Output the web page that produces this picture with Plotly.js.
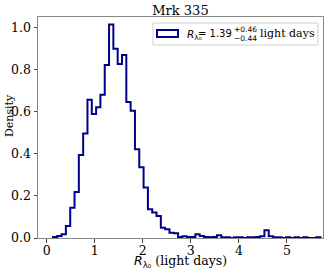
<!DOCTYPE html>
<html>
<head>
<meta charset="utf-8">
<script src="https://cdn.plot.ly/plotly-3.0.1.min.js"></script>
<style>html,body{margin:0;padding:0;background:#fff;}#chart{width:327px;height:273px;}</style>
</head>
<body>
<div id="chart"></div>
<script>
// Histogram (step) of R_lambda0 samples, density per bin
const binStart = 0.131;   // left edge of first bin (light days)
const binWidth = 0.0898;  // bin width (light days)
const density = [
  0.005, 0.010, 0.018, 0.057, 0.144, 0.219, 0.394, 0.497, 0.657, 0.589,
  0.621, 0.681, 0.822, 1.014, 0.899, 0.827, 0.870, 0.646, 0.605, 0.422,
  0.336, 0.240, 0.137, 0.121, 0.105, 0.049, 0.041, 0.025, 0.022, 0.005,
  0.008, 0.005, 0.005, 0.018, 0.010, 0.005, 0.003, 0.005, 0.013, 0.003,
  0.003, 0.000, 0.003, 0.003, 0.000, 0.003, 0.003, 0.005, 0.008, 0.037,
  0.008, 0.003, 0.003, 0.000, 0.003, 0.000, 0.003, 0.000, 0.003, 0.000,
  0.000, 0.003
];
const xTicks = [0, 1, 2, 3, 4, 5];
const yTicks = [0.0, 0.2, 0.4, 0.6, 0.8, 1.0];
const titleText = "Mrk 335";
const xLabel = "<span style='font-family:DejaVu Sans'><i>R</i><sub>\u03bb\u2080</sub></span> (light days)";
const yLabel = "Density";
const medianVal = "1.39", errPlus = "+0.46", errMinus = "\u22120.44";

// build step outline from bin edges
const edges = density.map((_, i) => binStart + i * binWidth);
const lastEdge = binStart + density.length * binWidth;
const sx = [edges[0]].concat(edges, [lastEdge]);
const sy = [0].concat(density, [0]);

const navy = "#00008b";
const serif = "DejaVu Serif, serif";
const sans = "DejaVu Sans, sans-serif";

const trace = {
  x: sx, y: sy, type: "scatter", mode: "lines",
  line: {shape: "hv", color: navy, width: 2},
  showlegend: false, hoverinfo: "skip"
};

// plot area pixel helpers for placement (paper coords)
const L = 38, R = 4, T = 17, B = 35, W = 327, H = 273;
const pw = W - L - R, ph = H - T - B;
const px = v => (v - L) / pw;
const py = v => (H - B - v) / ph;

const layout = {
  width: W, height: H,
  margin: {l: L, r: R, t: T, b: B, pad: 0},
  paper_bgcolor: "#fff", plot_bgcolor: "#fff",
  title: {text: titleText, font: {family: serif, size: 13, color: "#000"},
          xref: "paper", x: 0.5, xanchor: "center",
          yref: "container", y: 1 - 10 / H, yanchor: "middle"},
  xaxis: {
    range: [-0.18, 5.75], tickvals: xTicks, ticktext: xTicks.map(String),
    showgrid: false, zeroline: false,
    showline: true, mirror: true, linecolor: "#888", linewidth: 1,
    ticks: "outside", ticklen: 3.5, tickcolor: "#444", tickwidth: 1,
    ticklabelstandoff: -3,
    tickfont: {family: serif, size: 12.5, color: "#000"}
  },
  yaxis: {
    range: [0, 1.05], tickvals: yTicks, ticktext: yTicks.map(v => v.toFixed(1)),
    showgrid: false, zeroline: false,
    showline: true, mirror: true, linecolor: "#888", linewidth: 1,
    ticks: "outside", ticklen: 3.5, tickcolor: "#444", tickwidth: 1,
    tickfont: {family: serif, size: 12.5, color: "#000"}
  },
  shapes: [
    {type: "rect", xref: "paper", yref: "paper",
     x0: px(153), x1: px(318), y0: py(45), y1: py(23),
     line: {color: "#d0d0d0", width: 1}, fillcolor: "rgba(255,255,255,0.85)", layer: "above"},
    {type: "rect", xref: "paper", yref: "paper",
     x0: px(157), x1: px(178), y0: py(37), y1: py(30),
     line: {color: navy, width: 2}, fillcolor: "rgba(0,0,0,0)", layer: "above"}
  ],
  annotations: [
    // axis titles
    {xref: "paper", yref: "paper", x: px(180), y: py(261), xanchor: "center", yanchor: "middle",
     showarrow: false, text: xLabel, font: {family: serif, size: 12.5, color: "#000"}},
    {xref: "paper", yref: "paper", x: px(10), y: py(116), xanchor: "center", yanchor: "middle",
     showarrow: false, textangle: -90, text: yLabel, font: {family: serif, size: 11, color: "#000"}},
    // legend entry text
    {xref: "paper", yref: "paper", x: px(185), y: py(35), xanchor: "left", yanchor: "middle",
     showarrow: false, text: "<i>R</i><sub>\u03bb\u2080</sub>",
     font: {family: sans, size: 10.5, color: "#000"}},
    {xref: "paper", yref: "paper", x: px(234), y: py(34), xanchor: "right", yanchor: "middle",
     showarrow: false, text: "= " + medianVal,
     font: {family: sans, size: 10, color: "#000"}},
    {xref: "paper", yref: "paper", x: px(232), y: py(29.5), xanchor: "left", yanchor: "middle",
     showarrow: false, text: errPlus, font: {family: sans, size: 7.5, color: "#000"}},
    {xref: "paper", yref: "paper", x: px(232), y: py(38.5), xanchor: "left", yanchor: "middle",
     showarrow: false, text: errMinus, font: {family: sans, size: 7.5, color: "#000"}},
    {xref: "paper", yref: "paper", x: px(258), y: py(34), xanchor: "left", yanchor: "middle",
     showarrow: false, text: "light days", font: {family: serif, size: 11, color: "#000"}}
  ]
};

Plotly.newPlot("chart", [trace], layout, {staticPlot: true, displayModeBar: false});
</script>
</body>
</html>
